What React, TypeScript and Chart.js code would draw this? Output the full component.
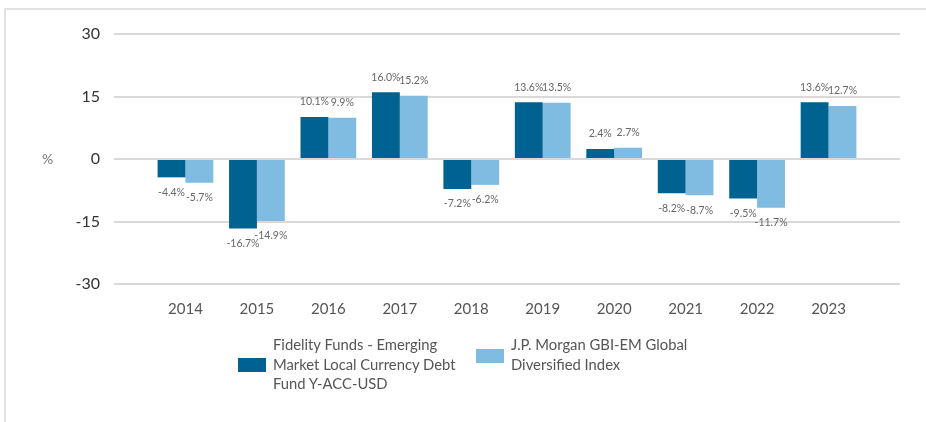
import { useEffect, useRef } from 'react';
import { Chart, registerables } from 'chart.js';

Chart.register(...registerables);

const years = ['2014', '2015', '2016', '2017', '2018', '2019', '2020', '2021', '2022', '2023'];
const fundValues = [-4.4, -16.7, 10.1, 16.0, -7.2, 13.6, 2.4, -8.2, -9.5, 13.6];
const indexValues = [-5.7, -14.9, 9.9, 15.2, -6.2, 13.5, 2.7, -8.7, -11.7, 12.7];
const yTicks = [-30, -15, 0, 15, 30];
const fundLabelLines = ['Fidelity Funds - Emerging', 'Market Local Currency Debt', 'Fund Y-ACC-USD'];
const indexLabelLines = ['J.P. Morgan GBI-EM Global', 'Diversified Index'];
const yUnit = '%';

const DARK = '#006290';
const LIGHT = '#80bbe1';
const FONT = 'Lato, "Noto Sans", sans-serif';

const valueLabels = {
  id: 'valueLabels',
  afterDatasetsDraw(chart: any) {
    const ctx = chart.ctx;
    ctx.save();
    ctx.font = `10.5px ${FONT}`;
    ctx.fillStyle = '#666666';
    ctx.textAlign = 'center';
    ctx.textBaseline = 'middle';
    chart.data.datasets.forEach((ds: any, di: number) => {
      const meta = chart.getDatasetMeta(di);
      meta.data.forEach((bar: any, i: number) => {
        const v = ds.data[i];
        if (v == null) return;
        const { x, y } = bar.getProps(['x', 'y'], true);
        ctx.fillText(v.toFixed(1) + '%', x, v >= 0 ? y - 15 : y + 15);
      });
    });
    ctx.restore();
  },
};

const unitLabel = {
  id: 'unitLabel',
  afterDraw(chart: any) {
    const { ctx, chartArea } = chart;
    ctx.save();
    ctx.font = `14px ${FONT}`;
    ctx.fillStyle = '#777777';
    ctx.textAlign = 'center';
    ctx.textBaseline = 'middle';
    ctx.fillText(yUnit, chartArea.left - 66.5, (chartArea.top + chartArea.bottom) / 2);
    ctx.restore();
  },
};

export default function App() {
  const canvasRef = useRef<HTMLCanvasElement | null>(null);

  useEffect(() => {
    if (!canvasRef.current) return;
    const labels = ['', ...years, ''];
    const pad = (arr: number[]) => [null, ...arr, null];
    const chart = new Chart(canvasRef.current, {
      type: 'bar',
      data: {
        labels,
        datasets: [
          {
            label: fundLabelLines.join(' '),
            data: pad(fundValues) as any,
            backgroundColor: DARK,
            borderWidth: 0,
            categoryPercentage: 0.78,
            barPercentage: 1.0,
          },
          {
            label: indexLabelLines.join(' '),
            data: pad(indexValues) as any,
            backgroundColor: LIGHT,
            borderWidth: 0,
            categoryPercentage: 0.78,
            barPercentage: 1.0,
          },
        ],
      },
      options: {
        responsive: false,
        maintainAspectRatio: false,
        animation: false,
        layout: { padding: { left: 0, top: 34, right: 26, bottom: 108 } },
        plugins: {
          legend: { display: false },
          tooltip: { enabled: false },
        },
        scales: {
          x: {
            offset: false,
            grid: { display: false },
            border: { display: false },
            ticks: {
              autoSkip: false,
              maxRotation: 0,
              padding: 8,
              color: '#555555',
              font: { family: FONT, size: 15 },
            },
            afterFit: (s: any) => {
              s.height = 30;
            },
          },
          y: {
            min: -30,
            max: 30,
            grid: { color: '#d9d9d9', lineWidth: 2, drawTicks: false },
            border: { display: false },
            ticks: {
              padding: 14,
              color: '#333333',
              font: { family: FONT, size: 16 },
            },
            afterBuildTicks: (s: any) => {
              s.ticks = yTicks.map((v) => ({ value: v }));
            },
            afterFit: (s: any) => {
              s.width = 114;
            },
          },
        },
      },
      plugins: [valueLabels, unitLabel],
    });
    return () => chart.destroy();
  }, []);

  const textStyle: any = {
    position: 'absolute',
    top: 335,
    fontFamily: FONT,
    fontSize: 14.8,
    lineHeight: '19.5px',
    color: '#555555',
    whiteSpace: 'nowrap',
  };

  return (
    <div>
      <div
        style={{
          position: 'absolute',
          left: 4,
          top: 8,
          width: 922,
          height: 414,
          boxSizing: 'border-box',
          borderTop: '2px solid #e2e2e2',
          borderLeft: '2px solid #e2e2e2',
        }}
      />
      <canvas
        ref={canvasRef}
        width={926}
        height={422}
        style={{ position: 'absolute', left: 0, top: 0, width: 926, height: 422 }}
      />
      <div style={{ position: 'absolute', left: 238, top: 358, width: 28, height: 14, background: DARK }} />
      <div style={{ ...textStyle, left: 273 }}>
        {fundLabelLines.map((l, i) => (
          <div key={i}>{l}</div>
        ))}
      </div>
      <div style={{ position: 'absolute', left: 476, top: 349, width: 28, height: 14, background: LIGHT }} />
      <div style={{ ...textStyle, left: 511 }}>
        {indexLabelLines.map((l, i) => (
          <div key={i}>{l}</div>
        ))}
      </div>
    </div>
  );
}
